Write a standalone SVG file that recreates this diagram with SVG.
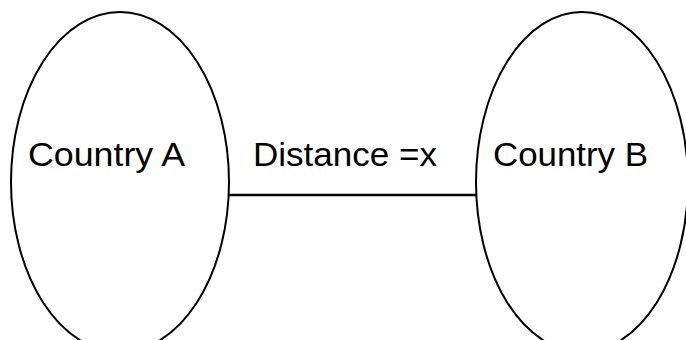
<svg xmlns="http://www.w3.org/2000/svg" width="686" height="340" viewBox="0 0 686 340">
<style>
.n{fill:none;stroke:#000;stroke-width:2}
.t{font-family:"Liberation Sans",Arial,sans-serif;font-size:34px;fill:#000}
.c{stroke:#000;stroke-width:2.5;fill:none}
</style>
<rect width="686" height="340" fill="#fff"/>
<g id="connectors">
<line class="c" x1="229" y1="195" x2="477" y2="195"/>
</g>
<g id="countryA">
<ellipse class="n" cx="120" cy="182" rx="109" ry="170"/>
<text class="t" x="28" y="166" textLength="157" lengthAdjust="spacingAndGlyphs">Country A</text>
</g>
<g id="countryB">
<ellipse class="n" cx="582" cy="182" rx="106" ry="170"/>
<text class="t" x="493" y="166" textLength="155" lengthAdjust="spacingAndGlyphs">Country B</text>
</g>
<text class="t" x="253" y="166" textLength="184" lengthAdjust="spacingAndGlyphs">Distance =x</text>
</svg>
